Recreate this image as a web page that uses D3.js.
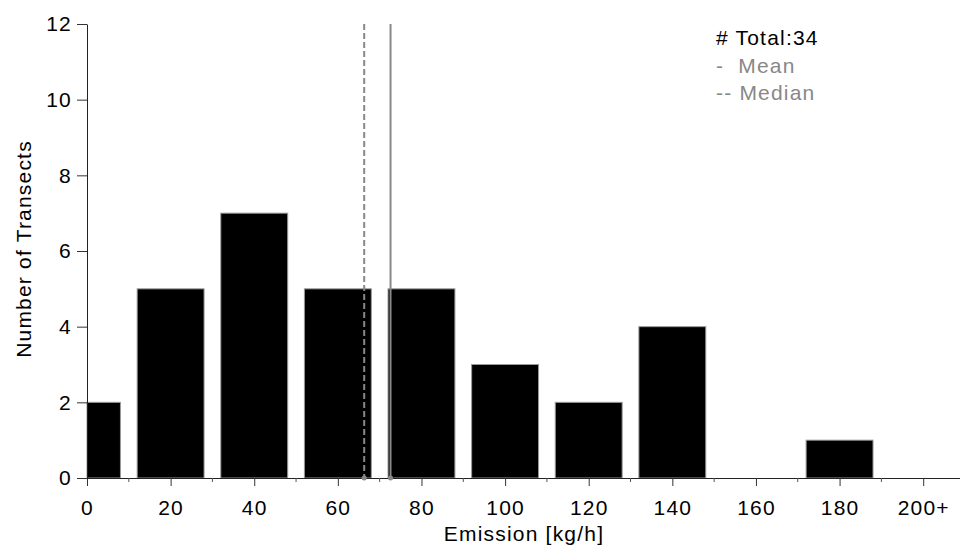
<!DOCTYPE html>
<html>
<head>
<meta charset="utf-8">
<script src="https://cdn.jsdelivr.net/npm/d3@7"></script>
<style>
  body { margin: 0; background: #fff; }
  text { font-family: "Liberation Sans", Arial, Helvetica, sans-serif; letter-spacing: 1.2px; }
</style>
</head>
<body>
<svg id="chart" width="960" height="546"></svg>
<script>
// histogram bins (centre of each bin) and counts
const binCenters = [0, 20, 40, 60, 80, 100, 120, 140, 160, 180, 200];
const counts = [2, 5, 7, 5, 5, 3, 2, 4, 0, 1, 0];
const xTickLabels = ["0", "20", "40", "60", "80", "100", "120", "140", "160", "180", "200+"];
const yTicks = [0, 2, 4, 6, 8, 10, 12];
const minorTicks = [10, 30, 50, 70, 90, 110, 130, 150, 170, 190];
const meanValue = 72.6;
const medianValue = 66.3;
const legendLines = ["# Total:34", "-  Mean", "-- Median"];

const fontSize = 21;
const svg = d3.select("#chart");

const x = d3.scaleLinear().domain([0, 210]).range([87, 965]);
const y = d3.scaleLinear().domain([0, 12]).range([478, 24]);
const barWidth = 16; // in data units

// bars
svg.selectAll(".bar")
  .data(binCenters.map((c, i) => ({ c: c, n: counts[i] })).filter(d => d.n > 0))
  .enter()
  .append("rect")
  .attr("class", "bar")
  .attr("x", d => x(Math.max(0, d.c - barWidth / 2)))
  .attr("width", d => x(d.c + barWidth / 2) - x(Math.max(0, d.c - barWidth / 2)))
  .attr("y", d => y(d.n))
  .attr("height", d => y(0) - y(d.n))
  .attr("fill", "#000")
  .attr("stroke", "#999")
  .attr("stroke-width", 1);

// x axis
const xAxis = d3.axisBottom(x)
  .tickValues(binCenters)
  .tickFormat((d, i) => xTickLabels[i])
  .tickSize(8)
  .tickSizeOuter(0);

const gx = svg.append("g")
  .attr("transform", `translate(0,${y(0)})`)
  .call(xAxis);
gx.select(".domain").attr("stroke", "#222");
gx.selectAll(".tick line").attr("stroke", "#333");
gx.selectAll(".tick text")
  .attr("font-size", fontSize)
  .attr("fill", "#000")
  .attr("dy", null)
  .attr("y", 37);

// minor x ticks
svg.append("g").selectAll("line")
  .data(minorTicks)
  .enter()
  .append("line")
  .attr("x1", d => x(d))
  .attr("x2", d => x(d))
  .attr("y1", y(0))
  .attr("y2", y(0) + 4)
  .attr("stroke", "#555");

// y axis
const yAxis = d3.axisLeft(y)
  .tickValues(yTicks)
  .tickSize(10)
  .tickSizeOuter(0)
  .tickPadding(5);

const gy = svg.append("g")
  .attr("transform", `translate(${x(0)},0)`)
  .call(yAxis);
gy.select(".domain").attr("stroke", "#222");
gy.selectAll(".tick line").attr("stroke", "#333");
gy.selectAll(".tick text")
  .attr("font-size", fontSize)
  .attr("fill", "#000");

// mean and median lines
const refLines = [
  { v: meanValue, dash: null },
  { v: medianValue, dash: "6,3" }
];
svg.selectAll(".ref")
  .data(refLines)
  .enter()
  .append("line")
  .attr("class", "ref")
  .attr("x1", d => x(d.v))
  .attr("x2", d => x(d.v))
  .attr("y1", y(12))
  .attr("y2", y(0))
  .attr("stroke", "#888")
  .attr("stroke-width", 2)
  .attr("stroke-dasharray", d => d.dash);

svg.selectAll(".refdot")
  .data(refLines)
  .enter()
  .append("circle")
  .attr("cx", d => x(d.v))
  .attr("cy", y(0))
  .attr("r", 2.5)
  .attr("fill", "#888");

// axis titles
svg.append("text")
  .attr("x", 524)
  .attr("y", 541)
  .attr("text-anchor", "middle")
  .attr("font-size", fontSize)
  .text("Emission [kg/h]");

svg.append("text")
  .attr("transform", "translate(31,249) rotate(-90)")
  .attr("text-anchor", "middle")
  .attr("font-size", fontSize)
  .text("Number of Transects");

// legend text
svg.selectAll(".legend")
  .data(legendLines)
  .enter()
  .append("text")
  .attr("class", "legend")
  .attr("x", 716)
  .attr("y", (d, i) => 45 + i * 27.5)
  .attr("font-size", fontSize)
  .attr("fill", (d, i) => i === 0 ? "#000" : "#888")
  .attr("xml:space", "preserve")
  .style("white-space", "pre")
  .text(d => d);
</script>
</body>
</html>
